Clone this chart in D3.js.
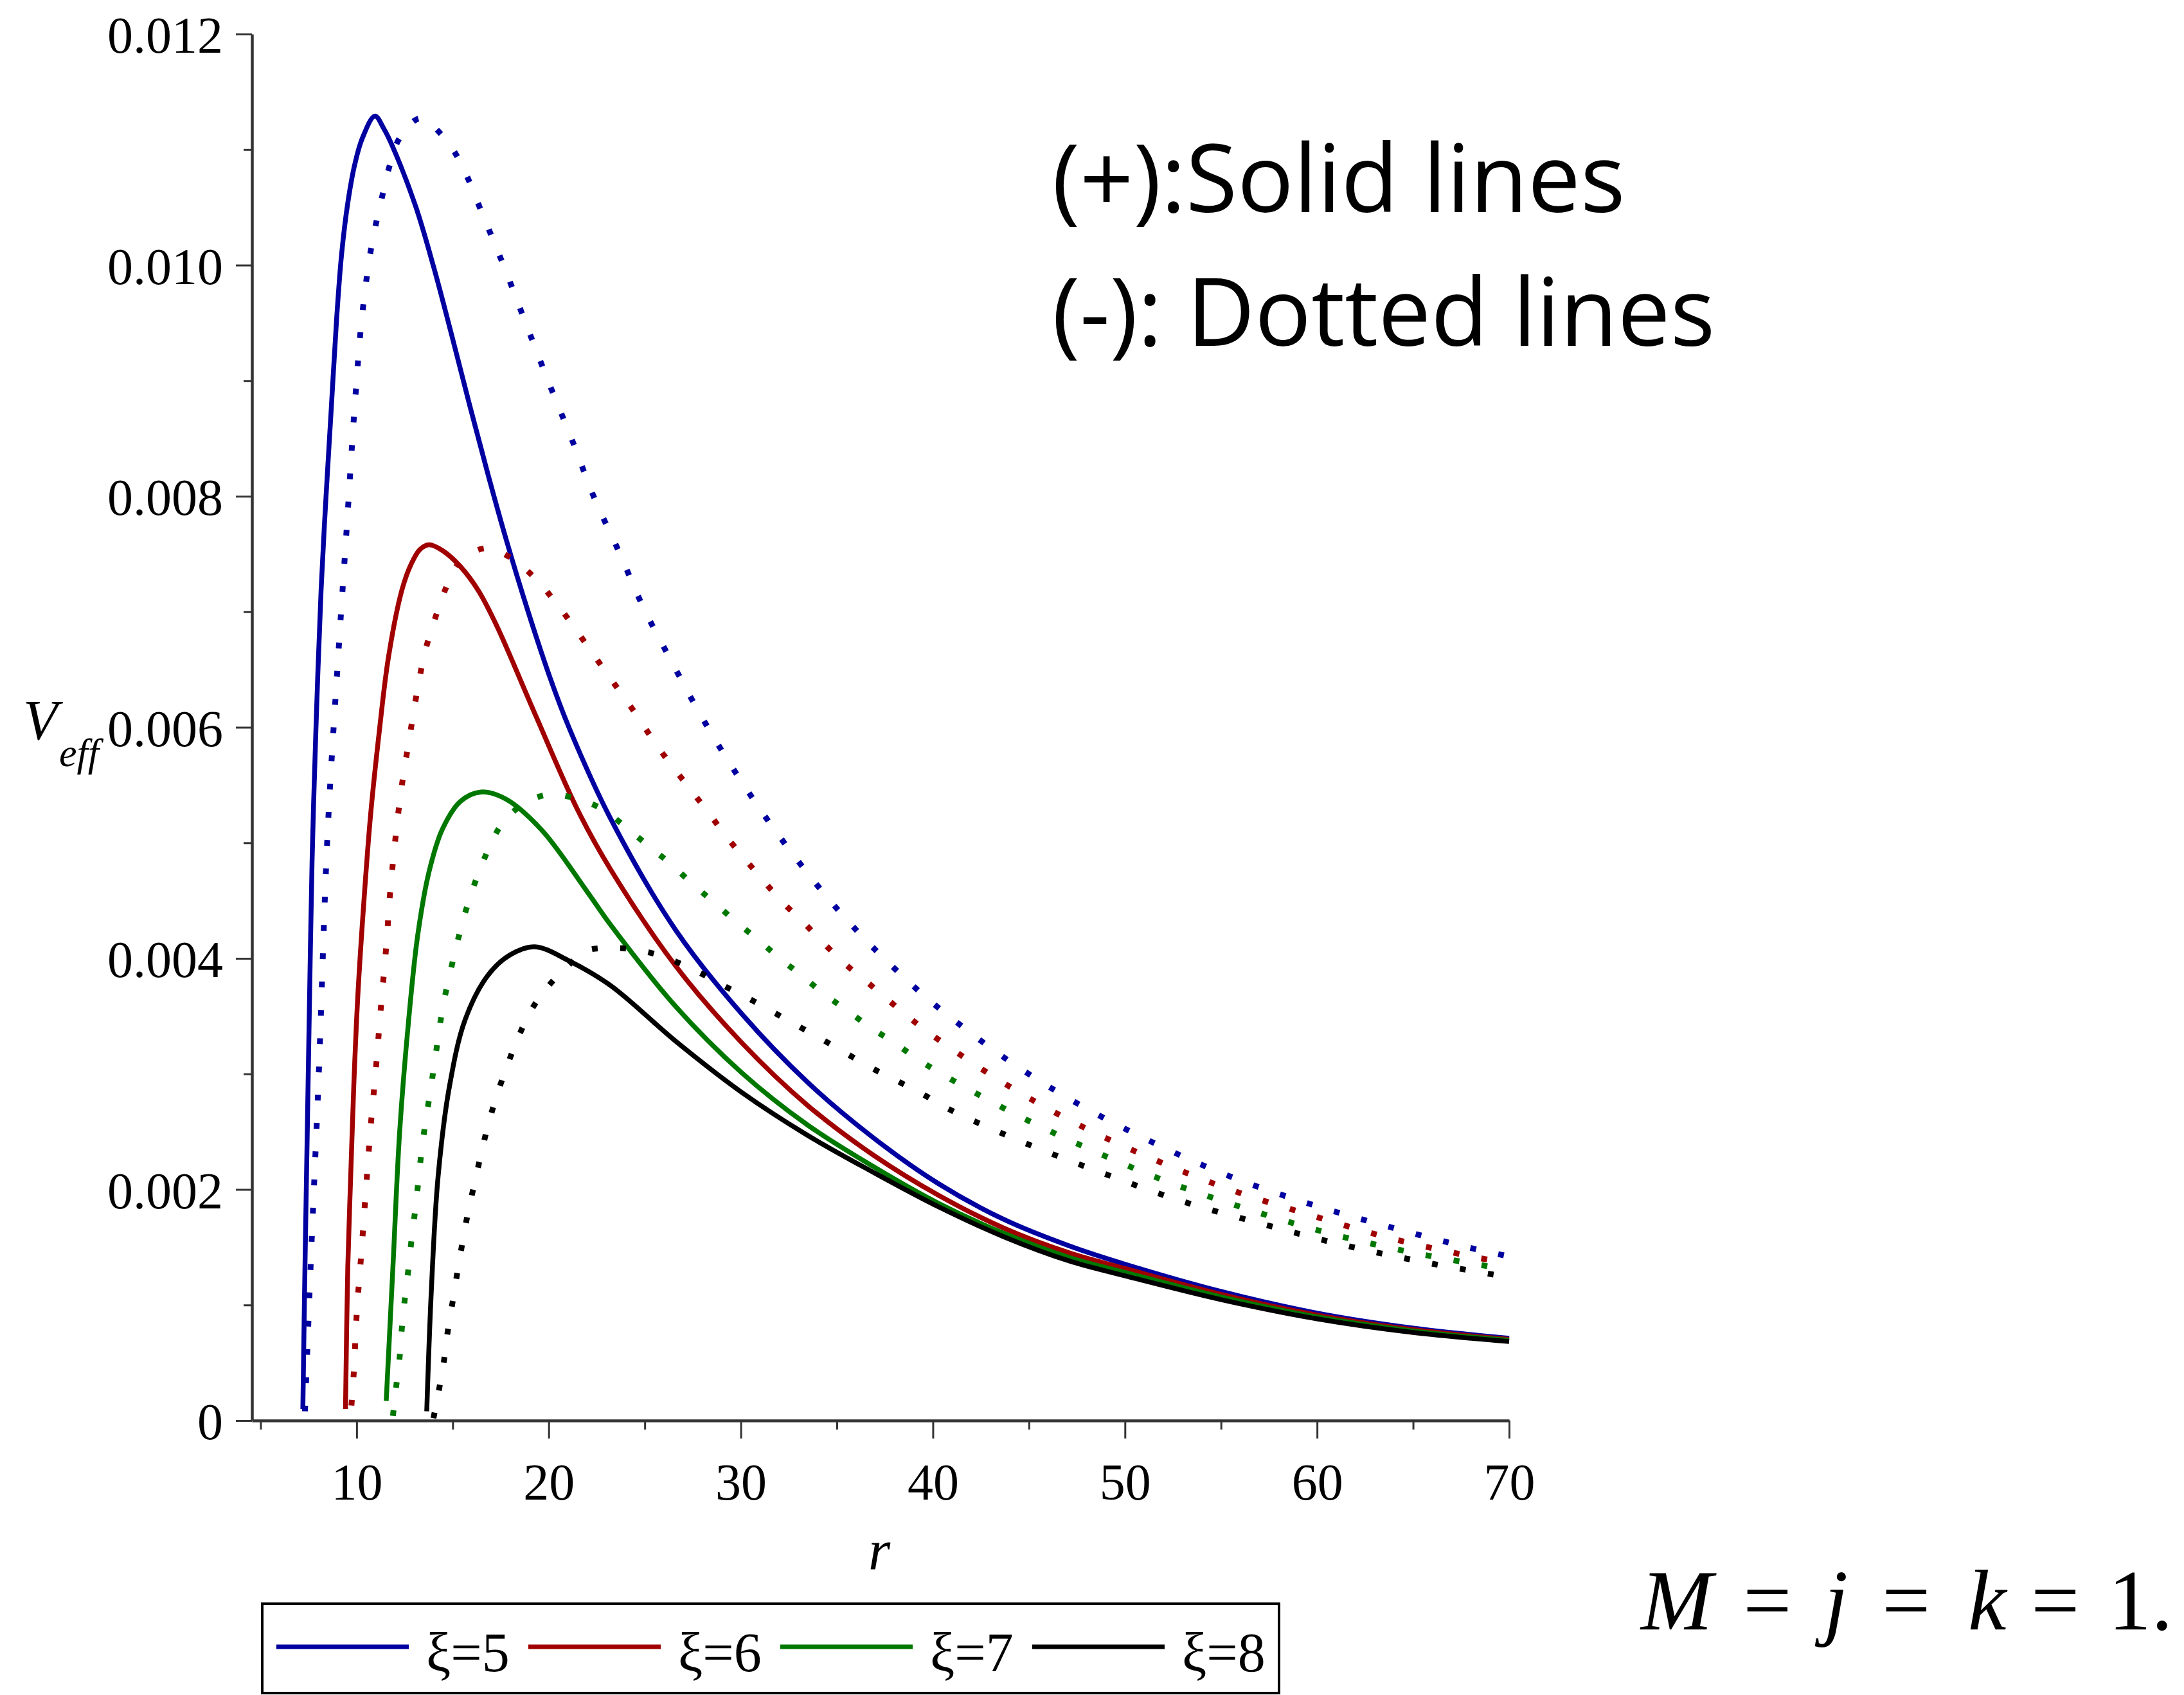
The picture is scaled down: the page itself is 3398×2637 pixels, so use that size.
<!DOCTYPE html>
<html>
<head>
<meta charset="utf-8">
<script src="https://cdn.jsdelivr.net/npm/d3@7"></script>
<style>
  body { margin: 0; background: #fff; }
  svg { display: block; background: #fff; }
</style>
</head>
<body>
<svg id="chart" width="3398" height="2637"></svg>
<script>
// V_eff against r; points are [r, V_eff]
// (+) branch -> solid lines, (-) branch -> dotted lines
var xi_labels = ["ξ=5", "ξ=6", "ξ=7", "ξ=8"];
var colors = ["#0000a0", "#a00000", "#007800", "#000000"];

var plus_5 = [[7.20,0.0001],[7.31,0.00133],[7.43,0.0025],[7.55,0.00367],[7.68,0.00484],[7.88,0.00598],[8.15,0.00719],[8.40,0.00798],[8.68,0.00876],[8.96,0.00954],[9.22,0.0101],[9.55,0.01055],[9.90,0.01087],[10.3,0.0111],[10.95,0.01129],[11.42,0.01118],[11.89,0.01102],[13.07,0.01051],[14.00,0.00999],[14.94,0.0094],[15.88,0.00879],[16.82,0.0082],[17.76,0.00764],[18.93,0.007],[20.11,0.00641],[21.10,0.00598],[23.22,0.00521],[26.63,0.00424],[30.05,0.00352],[33.46,0.00293],[36.88,0.00245],[40.29,0.00205],[43.70,0.00174],[47.12,0.00151],[50,0.001353],[55,0.001117],[60,0.00093],[65,0.0008],[70,0.000712]];
var plus_6 = [[9.42,0.0001],[9.54,0.00133],[9.69,0.00211],[9.85,0.00289],[10.06,0.00367],[10.36,0.00445],[10.72,0.00523],[11.19,0.00598],[11.66,0.00661],[12.36,0.00719],[12.83,0.00741],[13.30,0.00754],[13.77,0.00758],[14.47,0.00753],[15.41,0.00739],[16.35,0.00718],[17.29,0.00688],[19.30,0.00611],[21.52,0.00528],[23.22,0.00477],[26.63,0.00393],[30.05,0.00327],[33.46,0.00273],[36.88,0.0023],[40.29,0.00195],[43.70,0.001665],[47.12,0.00145],[50,0.001316],[55,0.001093],[60,0.000913],[65,0.000787],[70,0.000703]];
var plus_7 = [[11.54,0.00017],[11.89,0.00133],[12.24,0.0025],[12.71,0.00347],[13.18,0.0042],[13.77,0.00475],[14.47,0.00512],[15.41,0.00536],[16.47,0.00544],[17.76,0.00538],[19.64,0.00511],[21.99,0.00458],[23.22,0.00429],[26.63,0.00358],[30.05,0.00301],[33.46,0.00256],[36.88,0.0022],[40.29,0.00188],[43.70,0.00162],[47.12,0.00141],[50,0.001282],[55,0.00107],[60,0.000897],[65,0.000775],[70,0.000694]];
var plus_8 = [[13.65,0.00008],[13.89,0.00113],[14.24,0.00211],[14.83,0.00289],[15.65,0.00347],[16.82,0.00385],[17.99,0.00403],[19.28,0.0041],[21.04,0.00398],[23.22,0.003765],[26.63,0.00328],[30.05,0.00284],[33.46,0.00247],[36.88,0.00215],[40.29,0.00185],[43.70,0.00159],[47.12,0.00138],[50,0.001253],[55,0.001047],[60,0.00088],[65,0.000762],[70,0.000684]];

var minus_5 = [[7.31,0.00008],[7.62,0.0014],[8.02,0.00296],[8.49,0.00509],[9.07,0.00669],[9.49,0.00774],[9.90,0.00878],[10.29,0.00957],[10.79,0.01018],[11.31,0.01058],[11.70,0.01085],[12.24,0.0111],[13.30,0.01127],[14.47,0.01112],[15.37,0.0109],[16.63,0.01041],[17.76,0.00995],[18.89,0.00946],[20.06,0.00896],[21.23,0.00848],[22.36,0.00799],[23.63,0.00753],[24.92,0.00704],[26.33,0.00659],[27.86,0.00612],[29.38,0.0057],[31.09,0.00527],[32.90,0.00486],[34.85,0.00446],[36.85,0.0041],[39.05,0.00375],[40.16,0.00359],[43.81,0.00313],[47.46,0.00275],[51.41,0.00241],[55.36,0.00212],[59.52,0.00188],[63.68,0.00168],[67.83,0.0015],[70,0.00142]];
var minus_6 = [[9.73,0.00013],[9.85,0.00041],[10.01,0.00094],[10.25,0.00146],[10.48,0.00199],[10.72,0.00252],[11.00,0.00304],[11.26,0.00357],[11.54,0.0041],[11.77,0.00462],[12.29,0.00542],[12.78,0.00594],[13.30,0.00645],[13.65,0.00671],[14.12,0.00696],[14.66,0.00721],[15.37,0.00743],[16.70,0.00755],[17.99,0.00747],[19.17,0.00731],[20.18,0.00712],[21.09,0.00692],[21.99,0.00671],[22.88,0.0065],[23.75,0.0063],[24.68,0.00608],[25.51,0.00587],[26.40,0.00567],[27.34,0.00547],[28.28,0.00527],[29.22,0.00506],[30.16,0.00487],[31.14,0.00468],[32.15,0.00449],[33.21,0.00432],[34.26,0.00414],[35.37,0.00396],[36.54,0.0038],[37.67,0.00364],[38.82,0.00348],[40.01,0.00333],[43.70,0.00292],[47.46,0.00257],[51.51,0.00226],[55.46,0.002],[59.62,0.00178],[63.78,0.00158],[68.04,0.00142],[70,0.00136]];
var minus_7 = [[11.89,0.00004],[12.05,0.00028],[12.24,0.00055],[12.36,0.00081],[12.52,0.00107],[12.71,0.00133],[12.88,0.0016],[13.07,0.00185],[13.25,0.00213],[13.42,0.00239],[13.65,0.00265],[13.89,0.00291],[14.12,0.00317],[14.34,0.00343],[14.62,0.00369],[14.97,0.00395],[15.35,0.00421],[15.75,0.00445],[16.26,0.0047],[16.88,0.00495],[17.59,0.00517],[18.81,0.00535],[20.11,0.00542],[21.47,0.00538],[22.81,0.00529],[24.05,0.00513],[25.22,0.00497],[26.33,0.00482],[27.45,0.00465],[28.56,0.00449],[29.73,0.00432],[30.91,0.00416],[32.03,0.004],[33.18,0.00385],[34.35,0.00369],[35.53,0.00355],[36.77,0.0034],[37.99,0.00327],[39.19,0.00313],[40.46,0.003],[44.31,0.00265],[48.27,0.00234],[52.32,0.00206],[56.38,0.00183],[60.64,0.00162],[64.79,0.00146],[69.05,0.00133],[70,0.0013]];
var minus_8 = [[14.00,0.00002],[14.28,0.00026],[14.54,0.00051],[14.75,0.00078],[15.01,0.00104],[15.25,0.00129],[15.53,0.00156],[15.81,0.00181],[16.16,0.00207],[16.51,0.00233],[16.88,0.00258],[17.35,0.00284],[17.88,0.00309],[18.42,0.00332],[19.12,0.00356],[20.03,0.00377],[21.09,0.00395],[21.84,0.00406],[23.5,0.00409],[25.27,0.00405],[26.64,0.00397],[27.93,0.00387],[29.27,0.00375],[30.56,0.00364],[31.85,0.00352],[33.14,0.0034],[34.43,0.00328],[35.67,0.00316],[36.94,0.00304],[38.25,0.00293],[39.52,0.00282],[40.77,0.0027],[44.82,0.0024],[48.87,0.00214],[52.93,0.0019],[57.19,0.0017],[61.35,0.00152],[65.6,0.00137],[70,0.00124]];

var x_major = [10, 20, 30, 40, 50, 60, 70];
var x_minor = [5, 15, 25, 35, 45, 55, 65];
var y_major = [0, 0.002, 0.004, 0.006, 0.008, 0.010, 0.012];
var y_minor = [0.001, 0.003, 0.005, 0.007, 0.009, 0.011];

var plus_series = [plus_5, plus_6, plus_7, plus_8];
var minus_series = [minus_5, minus_6, minus_7, minus_8];

var serif = "'Liberation Serif', 'Times New Roman', serif";
var svg = d3.select("#chart");

var x = d3.scaleLinear().domain([4.55, 70]).range([392, 2348]);
var y = d3.scaleLinear().domain([0, 0.012]).range([2210, 53]);

// minor ticks (no labels)
svg.append("g")
    .attr("transform", "translate(0,2210)")
    .call(d3.axisBottom(x).tickValues(x_minor).tickSize(14).tickSizeOuter(0).tickFormat(""))
    .call(function (g) { g.select(".domain").remove(); });
svg.append("g")
    .attr("transform", "translate(392,0)")
    .call(d3.axisLeft(y).tickValues(y_minor).tickSize(13).tickSizeOuter(0).tickFormat(""))
    .call(function (g) { g.select(".domain").remove(); });

// major axes
var xAxis = svg.append("g")
    .attr("class", "x-axis")
    .attr("transform", "translate(0,2210)")
    .call(d3.axisBottom(x).tickValues(x_major).tickSize(28).tickSizeOuter(0).tickPadding(38));
var yAxis = svg.append("g")
    .attr("class", "y-axis")
    .attr("transform", "translate(392,0)")
    .call(d3.axisLeft(y).tickValues(y_major).tickSize(25).tickSizeOuter(0).tickPadding(20)
        .tickFormat(function (d) { return d === 0 ? "0" : d3.format(".3f")(d); }));

svg.selectAll(".tick line").attr("stroke", "#333").attr("stroke-width", 3);
svg.selectAll(".domain").attr("stroke", "#333").attr("stroke-width", 4.5);
svg.selectAll(".tick text")
    .attr("fill", "#000")
    .style("font-family", serif)
    .style("font-size", "80px");
yAxis.selectAll(".tick text").attr("dy", "0.36em");

// curves
var line = d3.line()
    .x(function (d) { return x(d[0]); })
    .y(function (d) { return y(d[1]); })
    .curve(d3.curveCatmullRom.alpha(0.5));

svg.append("g").attr("class", "solid")
    .selectAll("path")
    .data(plus_series)
    .join("path")
    .attr("d", line)
    .attr("fill", "none")
    .attr("stroke", function (d, i) { return colors[i]; })
    .attr("stroke-width", 7.5)
    .attr("stroke-linejoin", "round");

svg.append("g").attr("class", "dotted")
    .selectAll("path")
    .data(minus_series)
    .join("path")
    .attr("d", line)
    .attr("fill", "none")
    .attr("stroke", function (d, i) { return colors[i]; })
    .attr("stroke-width", 9)
    .attr("stroke-dasharray", "9 35");

// axis titles
svg.append("text")
    .attr("x", 36)
    .attr("y", 1150)
    .style("font-family", serif)
    .style("font-style", "italic")
    .style("font-size", "88px")
    .text("V");
svg.append("text")
    .attr("x", 92)
    .attr("y", 1192)
    .style("font-family", serif)
    .style("font-style", "italic")
    .style("font-size", "62px")
    .text("eff");

svg.append("text")
    .attr("x", 1368)
    .attr("y", 2441)
    .attr("text-anchor", "middle")
    .style("font-family", serif)
    .style("font-style", "italic")
    .style("font-size", "88px")
    .text("r");

// annotations
var note = svg.append("g")
    .style("font-family", "'Open Sans', 'Noto Sans', sans-serif")
    .style("font-size", "146px");
note.append("text").attr("x", 1637).attr("y", 330).text("(+):Solid lines");
note.append("text").attr("x", 1637).attr("y", 538).text("(-): Dotted lines");

var eq = svg.append("text")
    .attr("y", 2535)
    .style("font-family", serif)
    .style("font-size", "134px");
eq.append("tspan").attr("x", 2553).style("font-style", "italic").text("M");
eq.append("tspan").attr("x", 2712).text("=");
eq.append("tspan").attr("x", 2838).style("font-style", "italic").text("j");
eq.append("tspan").attr("x", 2928).text("=");
eq.append("tspan").attr("x", 3062).style("font-style", "italic").text("k");
eq.append("tspan").attr("x", 3160).text("=");
eq.append("tspan").attr("x", 3280).text("1.");

// legend
var legend = svg.append("g").attr("class", "legend");
legend.append("rect")
    .attr("x", 408)
    .attr("y", 2495)
    .attr("width", 1582)
    .attr("height", 139)
    .attr("fill", "none")
    .attr("stroke", "#000")
    .attr("stroke-width", 4);

var items = legend.selectAll("g.item")
    .data(xi_labels)
    .join("g")
    .attr("class", "item")
    .attr("transform", function (d, i) { return "translate(" + (430 + 392 * i) + ",0)"; });
items.append("line")
    .attr("x1", 0)
    .attr("x2", 206)
    .attr("y1", 2562)
    .attr("y2", 2562)
    .attr("stroke", function (d, i) { return colors[i]; })
    .attr("stroke-width", 7);
items.append("text")
    .attr("x", 233)
    .attr("y", 2600)
    .style("font-family", serif)
    .style("font-size", "86px")
    .text(function (d) { return d; });
</script>
</body>
</html>
